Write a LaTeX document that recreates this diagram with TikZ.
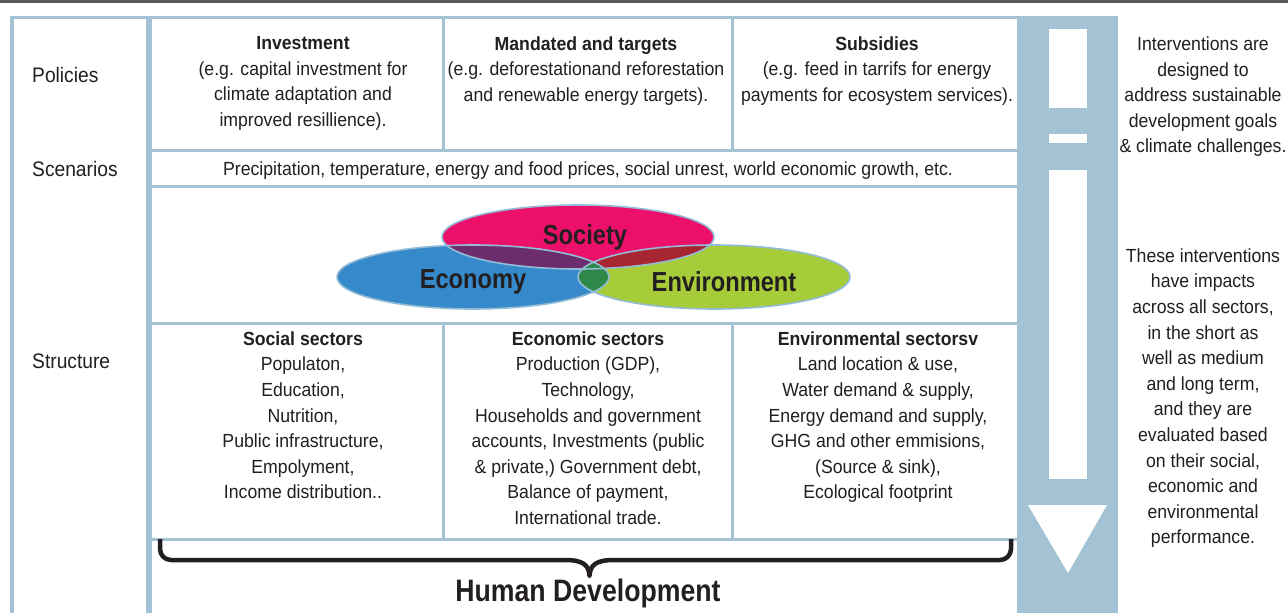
\documentclass[tikz,border=0pt]{standalone}
\usepackage{fontspec}
\setmainfont{Liberation Sans}
\newfontfamily\cbody{Liberation Sans}[FakeStretch=0.93]
\newfontfamily\clab{Liberation Sans}[FakeStretch=0.915]
\newfontfamily\cbig{Liberation Sans}[FakeStretch=0.86]
\definecolor{frameblue}{RGB}{163,194,211}
\definecolor{txt}{RGB}{35,31,32}
\definecolor{socc}{RGB}{236,16,106}
\definecolor{ecoc}{RGB}{54,137,202}
\definecolor{envc}{RGB}{166,204,57}
\definecolor{soceco}{RGB}{107,45,110}
\definecolor{socenv}{RGB}{168,38,50}
\definecolor{ecoenv}{RGB}{46,137,72}
\definecolor{ellline}{RGB}{147,188,214}
\definecolor{topline}{RGB}{88,88,88}
\tikzset{
  body/.style={text=txt, align=center, font=\cbody\fontsize{19}{25.6}\selectfont, inner sep=0pt,
    execute at begin node=\strut, execute at end node=\strut},
  lab/.style={text=txt, anchor=west, font=\clab\fontsize{21}{25}\selectfont, inner sep=0pt},
  big/.style={text=txt, font=\cbig\bfseries\fontsize{27.5}{30}\selectfont, inner sep=0pt},
  huge/.style={text=txt, font=\cbig\bfseries\fontsize{31}{35}\selectfont, inner sep=0pt},
  ell/.style={draw=ellline, line width=1.6pt},
  cell/.style={fill=white},
  whitebar/.style={fill=white},
  bracepath/.style={draw=txt, line width=4.5pt, line join=round, line cap=butt},
}
\begin{document}
\begin{tikzpicture}[x=1pt,y=-1pt]
\useasboundingbox (0,0) rectangle (1288,613);
\fill[white] (0,0) rectangle (1288,613);
% top rule
\fill[topline] (0,0) rectangle (1288,3);
% frame
\fill[frameblue] (10,16) rectangle (1017,613);
\fill[cell] (14,19) rectangle (146,613);
\fill[cell] (152,19) rectangle (442,149);
\fill[cell] (445,19) rectangle (730.5,149);
\fill[cell] (734,19) rectangle (1017,149);
\fill[cell] (152,152) rectangle (1017,185);
\fill[cell] (152,187.5) rectangle (1017,322);
\fill[cell] (152,325) rectangle (441.5,537.5);
\fill[cell] (445,325) rectangle (731,537.5);
\fill[cell] (734,325) rectangle (1017,537.5);
\fill[cell] (152,540.5) rectangle (1017,613);
% arrow column
\fill[frameblue] (1017,16) rectangle (1118,613);
\fill[whitebar] (1049,29) rectangle (1087,108);
\fill[whitebar] (1049,134) rectangle (1087,143);
\fill[whitebar] (1049,170) rectangle (1087,479);
\fill[whitebar] (1028,505) -- (1107,505) -- (1068,573) -- cycle;
% ellipses
\fill[socc] (578,237) ellipse [x radius=136pt, y radius=32pt];
\fill[ecoc] (473,277) ellipse [x radius=136pt, y radius=32pt];
\fill[envc] (714,277) ellipse [x radius=136pt, y radius=32pt];
\begin{scope}
  \clip (578,237) ellipse [x radius=136pt, y radius=32pt];
  \fill[soceco] (473,277) ellipse [x radius=136pt, y radius=32pt];
  \fill[socenv] (714,277) ellipse [x radius=136pt, y radius=32pt];
\end{scope}
\begin{scope}
  \clip (473,277) ellipse [x radius=136pt, y radius=32pt];
  \fill[ecoenv] (714,277) ellipse [x radius=136pt, y radius=32pt];
\end{scope}
\draw[ell] (473,277) ellipse [x radius=136pt, y radius=32pt];
\draw[ell] (714,277) ellipse [x radius=136pt, y radius=32pt];
\draw[ell] (578,237) ellipse [x radius=136pt, y radius=32pt];
\node[big] (soc) at (585,237) {Society};
\node[big] (eco) at (473,282) {Economy};
\node[big] (env) at (724,282) {Environment};
% left labels
\node[lab] (pol) at (32,75) {Policies};
\node[lab] (scen) at (32,169) {Scenarios};
\node[lab] (str) at (32,361) {Structure};
% policy cells
\node[body] (inv) at (303,85.5) {\textbf{Investment}\\(e.g. capital investment for\\climate adaptation and\\improved resillience).};
\node[body] (man) at (586,72.6) {\textbf{Mandated and targets}\\(e.g. deforestationand reforestation\\and renewable energy targets).};
\node[body] (sub) at (877,72.6) {\textbf{Subsidies}\\(e.g. feed in tarrifs for energy\\payments for ecosystem services).};
% scenarios
\node[body] (sce) at (588,170) {Precipitation, temperature, energy and food prices, social unrest, world economic growth, etc.};
% sector cells
\node[body] (socs) at (303,419) {\textbf{Social sectors}\\Populaton,\\Education,\\Nutrition,\\Public infrastructure,\\Empolyment,\\Income distribution..};
\node[body] (ecos) at (588,431.8) {\textbf{Economic sectors}\\Production (GDP),\\Technology,\\Households and government\\accounts, Investments (public\\\& private,) Government debt,\\Balance of payment,\\International trade.};
\node[body] (envs) at (878,419) {\textbf{Environmental sectorsv}\\Land location \& use,\\Water demand \& supply,\\Energy demand and supply,\\GHG and other emmisions,\\(Source \& sink),\\Ecological footprint};
% right texts
\node[body] (r1) at (1203,98.7) {Interventions are\\designed to\\address sustainable\\development goals\\\& climate challenges.};
\node[body] (r2) at (1203,400) {These interventions\\have impacts\\across all sectors,\\in the short as\\well as medium\\and long term,\\and they are\\evaluated based\\on their social,\\economic and\\environmental\\performance.};
% brace
\draw[bracepath] (160,539) -- (160,549) arc[start angle=180, end angle=270, radius=11pt]
  -- (565,560) .. controls (583,560) and (589,565) .. (589.5,576)
  .. controls (590,565) and (596,560) .. (614,560)
  -- (1000,560) arc[start angle=270, end angle=360, radius=11pt] -- (1011,539);
\node[huge] (hd) at (588,593) {Human Development};
\end{tikzpicture}
\end{document}
